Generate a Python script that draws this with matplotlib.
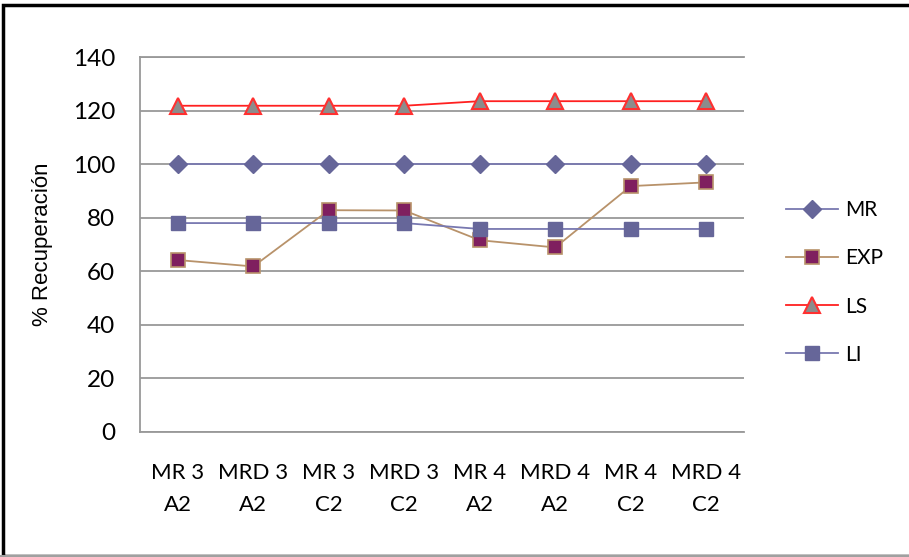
import matplotlib
matplotlib.use("Agg")
import matplotlib.pyplot as plt
from matplotlib.lines import Line2D
from matplotlib.patches import Rectangle

categories = ["MR 3\nA2", "MRD 3\nA2", "MR 3\nC2", "MRD 3\nC2",
              "MR 4\nA2", "MRD 4\nA2", "MR 4\nC2", "MRD 4\nC2"]
mr = [100, 100, 100, 100, 100, 100, 100, 100]
exp = [64.2, 61.8, 82.8, 82.7, 71.6, 68.9, 91.8, 93.2]
ls = [121.8, 121.8, 121.8, 121.8, 123.5, 123.5, 123.5, 123.5]
li = [78.0, 78.0, 78.0, 78.0, 75.8, 75.8, 75.8, 75.8]
yticks = [0, 20, 40, 60, 80, 100, 120, 140]

font = "Lato"

fig = plt.figure(figsize=(9.09, 5.57), dpi=100)
ax = fig.add_axes([140 / 909, 1 - 432 / 557, 604 / 909, 375 / 557])

x = list(range(len(categories)))

series = [
    ("MR", mr, dict(color="#7878B0", marker="D", ms=9, mfc="#666699", mec="#666699")),
    ("EXP", exp, dict(color="#B8926A", marker="s", ms=10, mfc="#7F1F5F", mec="#B8926A", mew=1.2)),
    ("LS", ls, dict(color="#FF2020", marker="^", ms=11, mfc="#8C8C8C", mec="#FF3030", mew=1.5)),
    ("LI", li, dict(color="#7878B0", marker="s", ms=10, mfc="#666699", mec="#666699")),
]
handles = []
for name, vals, st in series:
    ln, = ax.plot(x, vals, lw=1.3, label=name, zorder=3, **st)
    handles.append(ln)

ax.set_xlim(-0.5, len(categories) - 0.5)
ax.set_ylim(0, 140)
ax.set_yticks(yticks)
ax.set_xticks(x)
ax.set_xticklabels(categories, fontfamily=font, fontsize=16, linespacing=1.75)
ax.set_yticklabels([str(v) for v in yticks], fontfamily=font, fontsize=17.5)
ax.tick_params(axis="both", length=0, colors="#000000")
ax.tick_params(axis="x", pad=22)
ax.tick_params(axis="y", pad=18)
ax.grid(axis="y", color="#999999", lw=1.3, zorder=1)
ax.spines["right"].set_visible(False)
for s in ["top", "left", "bottom"]:
    ax.spines[s].set_color("#999999")
    ax.spines[s].set_linewidth(1.3)

ax.set_ylabel("% Recuperación", fontfamily="Liberation Sans", fontsize=16, labelpad=14)

leg = fig.legend(handles=handles, loc="upper left", bbox_to_anchor=(778 / 909, 1 - 192 / 557),
                 frameon=False, prop={"family": font, "size": 15}, labelspacing=1.35,
                 handlelength=2.5, handletextpad=0.3, borderaxespad=0)

# Outer frame
fig.patches.append(Rectangle((3 / 909, 1 / 557), 1.2, 1 - 6 / 557, transform=fig.transFigure,
                             fill=False, ec="#000000", lw=2.5, zorder=0))
fig.add_artist(Line2D([0, 1], [1.5 / 557, 1.5 / 557], transform=fig.transFigure, color="#A0A0A0", lw=1.5))

fig.savefig("out.png", dpi=100)
